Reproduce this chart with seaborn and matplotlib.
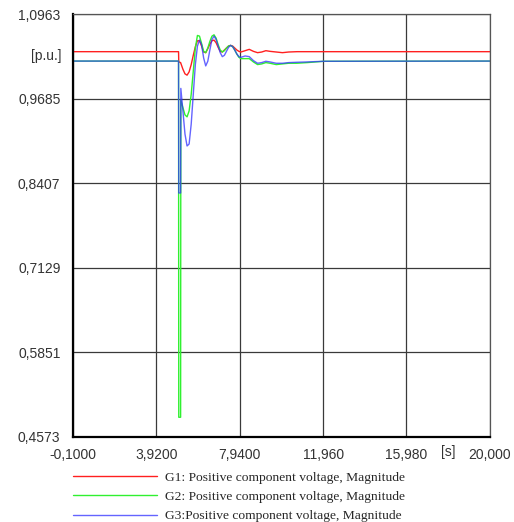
import matplotlib
matplotlib.use("Agg")
import matplotlib.pyplot as plt
import seaborn as sns
import pandas as pd
from matplotlib.ticker import FixedLocator, NullFormatter

# ---- data ----
t = [-0.1, 4.99, 5.0, 5.09, 5.1, 5.2, 5.3, 5.4, 5.5, 5.6, 5.7, 5.8, 5.9, 6.0, 6.1, 6.2,
     6.3, 6.4, 6.5, 6.6, 6.7, 6.8, 6.9, 7.0, 7.1, 7.2, 7.3, 7.4, 7.5, 7.6, 7.7, 7.8,
     7.9, 8.0, 8.2, 8.4, 8.6, 8.8, 9.0, 9.2, 9.4, 9.7, 10.0, 10.3, 10.7, 11.2, 12.0, 20.0]
g1 = [1.0395, 1.0395, 1.024, 1.023, 1.022, 1.013, 1.006, 1.004, 1.009, 1.020, 1.034, 1.047,
      1.056, 1.056, 1.048, 1.039, 1.038, 1.044, 1.051, 1.056, 1.057, 1.053, 1.046, 1.040,
      1.039, 1.042, 1.045, 1.048, 1.049, 1.048, 1.045, 1.042, 1.040, 1.039, 1.041, 1.043,
      1.040, 1.038, 1.039, 1.041, 1.040, 1.039, 1.038, 1.039, 1.0395, 1.0395, 1.0395, 1.0395]
g2 = [1.0253, 1.0253, 0.487, 0.487, 0.966, 0.955, 0.944, 0.941, 0.950, 0.975, 1.010, 1.045,
      1.064, 1.063, 1.052, 1.040, 1.038, 1.045, 1.055, 1.063, 1.065, 1.060, 1.050, 1.042,
      1.039, 1.041, 1.045, 1.048, 1.049, 1.047, 1.042, 1.036, 1.031, 1.029, 1.029, 1.029,
      1.024, 1.020, 1.021, 1.023, 1.022, 1.020, 1.021, 1.022, 1.022, 1.023, 1.025, 1.0253]
g3 = [1.0253, 1.0253, 0.826, 0.826, 0.984, 0.950, 0.915, 0.897, 0.900, 0.930, 0.975, 1.020,
      1.048, 1.057, 1.050, 1.030, 1.018, 1.025, 1.042, 1.058, 1.063, 1.058, 1.048, 1.038,
      1.032, 1.034, 1.040, 1.046, 1.049, 1.047, 1.042, 1.036, 1.032, 1.031, 1.033, 1.032,
      1.026, 1.022, 1.023, 1.025, 1.024, 1.022, 1.022, 1.023, 1.0235, 1.024, 1.025, 1.0253]
labels = ["G1: Positive component voltage, Magnitude",
          "G2: Positive component voltage, Magnitude",
          "G3:Positive component voltage, Magnitude"]
colors = ["#ff2020", "#30f030", "#3030ff"]
x_ticks = [-0.1, 3.92, 7.94, 11.96, 15.98, 20.0]
x_tick_labels = ["-0,1000", "3,9200", "7,9400", "11,960", "15,980", "20,000"]
y_ticks = [0.4573, 0.5851, 0.7129, 0.8407, 0.9685, 1.0963]
y_tick_labels = ["0,4573", "0,5851", "0,7129", "0,8407", "0,9685", "1,0963"]

sns.set_style("white")
plt.rcParams['font.family'] = ['Liberation Sans', 'DejaVu Sans']

fig = plt.figure(figsize=(5.14, 5.22), dpi=100)
ax = fig.add_axes([0.142, 0.163, 0.811, 0.810])

for vals, lab, col, a in zip([g1, g2, g3], labels, colors, [1.0, 1.0, 0.75]):
    df = pd.DataFrame({"t": t, "v": vals})
    sns.lineplot(data=df, x="t", y="v", ax=ax, color=col, lw=1.0, alpha=a,
                 estimator=None, sort=False, label=lab)

ax.set_xlim(-0.1, 20.0)
ax.set_ylim(0.4573, 1.0963)
ax.set_xticks(x_ticks)
ax.set_xticklabels(x_tick_labels)
ax.set_yticks(y_ticks)
ax.set_yticklabels(y_tick_labels)
xm = [(x_ticks[i] + x_ticks[i + 1]) / 2 for i in range(len(x_ticks) - 1)]
ym = [(y_ticks[i] + y_ticks[i + 1]) / 2 for i in range(len(y_ticks) - 1)]
ax.xaxis.set_minor_locator(FixedLocator(xm))
ax.yaxis.set_minor_locator(FixedLocator(ym))
ax.xaxis.set_minor_formatter(NullFormatter())
ax.yaxis.set_minor_formatter(NullFormatter())
ax.tick_params(axis='both', which='major', length=0, labelsize=10, colors='#333333')
ax.tick_params(axis='x', which='major', pad=8)
ax.tick_params(axis='y', which='major', pad=9)
ax.tick_params(axis='both', which='minor', direction='in', length=5, width=0.8, color='#333333')
ax.grid(True, which='major', color='#3a3a3a', lw=0.9)
ax.set_xlabel("")
ax.set_ylabel("")
for s in ['top', 'right']:
    ax.spines[s].set_color('#555555')
    ax.spines[s].set_linewidth(0.9)
for s in ['left', 'bottom']:
    ax.spines[s].set_color('black')
    ax.spines[s].set_linewidth(1.6)

ax.text(-0.028, 1.0324, "[p.u.]", transform=ax.get_yaxis_transform(), ha='right',
        va='center', fontsize=10, color='#333333')
ax.text(17.99, -0.019, "[s]", transform=ax.get_xaxis_transform(), ha='center',
        va='top', fontsize=10, color='#333333')

leg = ax.legend(loc='upper left', bbox_to_anchor=(0.0, -0.082), frameon=False,
                borderpad=0, borderaxespad=0,
                handlelength=6.25, handletextpad=0.6, labelspacing=0.5,
                prop={'family': 'Liberation Serif', 'size': 9.7})
for line in leg.get_lines():
    line.set_linewidth(1.0)

fig.savefig("out.png", dpi=100)
